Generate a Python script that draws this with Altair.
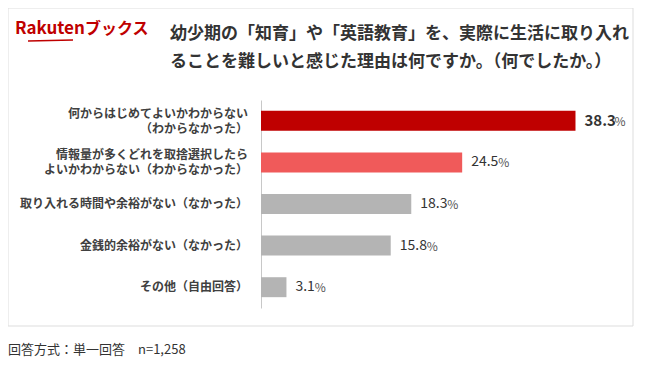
import altair as alt
import pandas as pd

categories = [
    "何からはじめてよいかわからない\n（わからなかった）",
    "情報量が多くどれを取捨選択したら\nよいかわからない（わからなかった）",
    "取り入れる時間や余裕がない（なかった）",
    "金銭的余裕がない（なかった）",
    "その他（自由回答）",
]
values = [38.3, 24.5, 18.3, 15.8, 3.1]
title_lines = [
    "幼少期の「知育」や「英語教育」を、実際に生活に取り入れ",
    "ることを難しいと感じた理由は何ですか。（何でしたか。）",
]
logo_word = "Rakuten"
logo_kana = "ブックス"
footnote = "回答方式：単一回答　n=1,258"

FONT = "Noto Sans CJK JP"
bar_colors = ["#bf0000", "#f05a5a", "#b4b4b4", "#b4b4b4", "#b4b4b4"]

df = pd.DataFrame({"cat": categories, "value": values})
df["num"] = df["value"].map(lambda v: f"{v:.1f}")
df["rank"] = range(len(df))
df["l1"] = df["cat"].map(lambda s: s.split("\n")[0])
df["l2"] = df["cat"].map(lambda s: s.split("\n")[1] if "\n" in s else "")
df["two"] = df["l2"] != ""

y_enc = alt.Y(
    "cat:N",
    sort=categories,
    scale=alt.Scale(paddingInner=0.52, paddingOuter=0.26),
    axis=alt.Axis(labels=False, ticks=False, title=None, grid=False,
                  domainColor="#c8c8c8", domainWidth=1),
)
DOMAIN = [0, 46.4]
PX_PER_UNIT = 381 / 46.4
x_enc = alt.X("value:Q", scale=alt.Scale(domain=DOMAIN), axis=None)
y_plain = alt.Y("cat:N", sort=categories)

base = alt.Chart(df)

bars = base.mark_bar().encode(
    x=x_enc,
    y=y_enc,
    color=alt.Color("cat:N", sort=categories,
                    scale=alt.Scale(domain=categories, range=bar_colors),
                    legend=None),
)

lab_style = dict(align="right", baseline="middle", font=FONT, fontSize=12,
                 fontWeight="bold", color="#404040")
lab_single = base.transform_filter("!datum.two").mark_text(**lab_style).encode(
    x=alt.value(-13), y=y_plain, text="l1:N")
lab_top = base.transform_filter("datum.two").mark_text(dy=-7, **lab_style).encode(
    x=alt.value(-13), y=y_plain, text="l1:N")
lab_bot = base.transform_filter("datum.two").mark_text(dy=8, **lab_style).encode(
    x=alt.value(-13), y=y_plain, text="l2:N")

# number part of the value labels
val_first = base.transform_filter("datum.rank == 0").mark_text(
    align="left", baseline="middle", dx=9, font=FONT, fontSize=15,
    fontWeight="bold", color="#333333",
).encode(x=x_enc, y=y_plain, text="num:N")

val_rest = base.transform_filter("datum.rank > 0").mark_text(
    align="left", baseline="middle", dx=9, font=FONT, fontSize=14,
    color="#333333",
).encode(x=x_enc, y=y_plain, text="num:N")

# smaller percent sign placed after the number (approximate glyph widths)
pct_first = base.transform_filter("datum.rank == 0").transform_calculate(
    px=f"datum.value + ((length(datum.num) - 1) * 8.6 + 3.8) / {PX_PER_UNIT}"
).mark_text(
    align="left", baseline="middle", dx=9.5, dy=1, font=FONT, fontSize=12,
    color="#555555", text="%",
).encode(x=alt.X("px:Q", scale=alt.Scale(domain=DOMAIN), axis=None), y=y_plain)

pct_rest = base.transform_filter("datum.rank > 0").transform_calculate(
    px=f"datum.value + ((length(datum.num) - 1) * 7.7 + 3.4) / {PX_PER_UNIT}"
).mark_text(
    align="left", baseline="middle", dx=9.5, dy=1, font=FONT, fontSize=12,
    color="#555555", text="%",
).encode(x=alt.X("px:Q", scale=alt.Scale(domain=DOMAIN), axis=None), y=y_plain)

one = alt.Data(values=[{"k": 1}])

def fixed_text(txt, x, y, **kw):
    return alt.Chart(one).mark_text(text=txt, font=FONT, **kw).encode(
        x=alt.value(x), y=alt.value(y))

title1 = fixed_text(title_lines[0], -91, -66, align="left", baseline="middle",
                    fontSize=17, fontWeight="bold", color="#333333")
title2 = fixed_text(title_lines[1], -91, -38, align="left", baseline="middle",
                    fontSize=17, fontWeight="bold", color="#333333")
logo1 = fixed_text(logo_word, -246, -71, align="left", baseline="middle",
                   fontSize=17, fontWeight="bold", color="#bf0000")
logo2 = fixed_text(logo_kana, -176, -71, align="left", baseline="middle",
                   fontSize=16, fontWeight="bold", color="#bf0000")
foot = fixed_text(footnote, -253, 250, align="left", baseline="middle",
                  fontSize=13, color="#333333")

swoosh = alt.Chart(one).mark_rule(color="#bf0000", strokeWidth=1.5).encode(
    x=alt.value(-233), x2=alt.value(-188), y=alt.value(-59), y2=alt.value(-60))

box = alt.Chart(one).mark_rect(fill=None, stroke="#dddddd", strokeWidth=1).encode(
    x=alt.value(-253), x2=alt.value(372), y=alt.value(-92), y2=alt.value(226))

chart = alt.layer(
    box, bars, lab_single, lab_top, lab_bot, val_first, val_rest,
    pct_first, pct_rest, title1, title2, logo1, logo2, swoosh, foot,
).properties(
    width=381, height=208,
    padding={"left": 253, "top": 92, "right": 0, "bottom": 58},
    autosize=alt.AutoSizeParams(type="none"),
).configure_view(stroke=None)

chart.save("out.html", embed_options={"renderer": "svg", "actions": False})
